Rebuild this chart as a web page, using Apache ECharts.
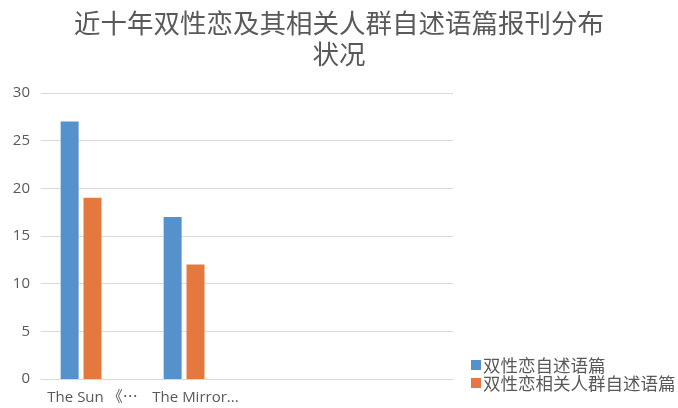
<!DOCTYPE html>
<html>
<head>
<meta charset="utf-8">
<script src="https://cdn.jsdelivr.net/npm/echarts@6/dist/echarts.min.js"></script>
<style>
  html, body { margin: 0; padding: 0; background: #fff; }
  #chart { width: 678px; height: 408px; }
</style>
</head>
<body>
<div id="chart"></div>
<script>
// Newspapers (labels truncated as in the source workbook); last two slots are empty
const categories = ['The Sun 《⋯', 'The Mirror...', '', ''];
// Count of self-narrative texts by bisexual people
const selfNarratives = [27, 17, null, null];
// Count of self-narrative texts by bisexual-related groups
const relatedNarratives = [19, 12, null, null];
// Third column of the workbook, left blank
const blankSeries = [null, null, null, null];
const yTicks = { min: 0, max: 30, interval: 5 };

const seriesNames = ['双性恋自述语篇', '双性恋相关人群自述语篇'];
const textColor = '#595959';
const fontStack = '"Open Sans", "Noto Sans CJK SC", sans-serif';

const chart = echarts.init(document.getElementById('chart'), null, { renderer: 'canvas' });

chart.setOption({
  animation: false,
  backgroundColor: '#ffffff',
  title: {
    text: '近十年双性恋及其相关人群自述语篇报刊分布\n状况',
    left: 'center',
    top: 2,
    textStyle: {
      color: textColor,
      fontSize: 26.5,
      fontWeight: 'normal',
      lineHeight: 31,
      fontFamily: '"Noto Sans CJK SC", sans-serif'
    }
  },
  legend: {
    data: seriesNames,
    orient: 'vertical',
    left: 466,
    top: 351,
    itemWidth: 10,
    itemHeight: 10,
    itemGap: 0,
    icon: 'rect',
    textStyle: {
      color: textColor,
      fontSize: 17.5,
      lineHeight: 18,
      fontFamily: '"Noto Sans CJK SC", sans-serif',
      padding: [0, 0, 0, -3]
    }
  },
  grid: {
    left: 41,
    right: 225,
    top: 93,
    bottom: 29
  },
  xAxis: {
    type: 'category',
    data: categories,
    axisLine: { show: true, lineStyle: { color: '#d9d9d9', width: 1 } },
    axisTick: { show: false },
    axisLabel: {
      color: textColor,
      fontSize: 15,
      margin: 11,
      interval: 0,
      fontFamily: fontStack
    }
  },
  yAxis: {
    type: 'value',
    min: yTicks.min,
    max: yTicks.max,
    interval: yTicks.interval,
    axisLine: { show: false },
    axisTick: { show: false },
    axisLabel: {
      color: textColor,
      fontSize: 15,
      margin: 11,
      fontFamily: fontStack
    },
    splitLine: { lineStyle: { color: '#d9d9d9', width: 1 } }
  },
  series: [
    {
      name: seriesNames[0],
      type: 'bar',
      data: selfNarratives,
      barWidth: 18,
      barGap: '27%',
      itemStyle: { color: '#5592cc' }
    },
    {
      name: seriesNames[1],
      type: 'bar',
      data: relatedNarratives,
      barWidth: 18,
      barGap: '27%',
      itemStyle: { color: '#e5783e' }
    },
    {
      name: 'blank',
      type: 'bar',
      data: blankSeries,
      barWidth: 18,
      barGap: '27%',
      itemStyle: { color: '#a5a5a5' }
    }
  ]
});
</script>
</body>
</html>
